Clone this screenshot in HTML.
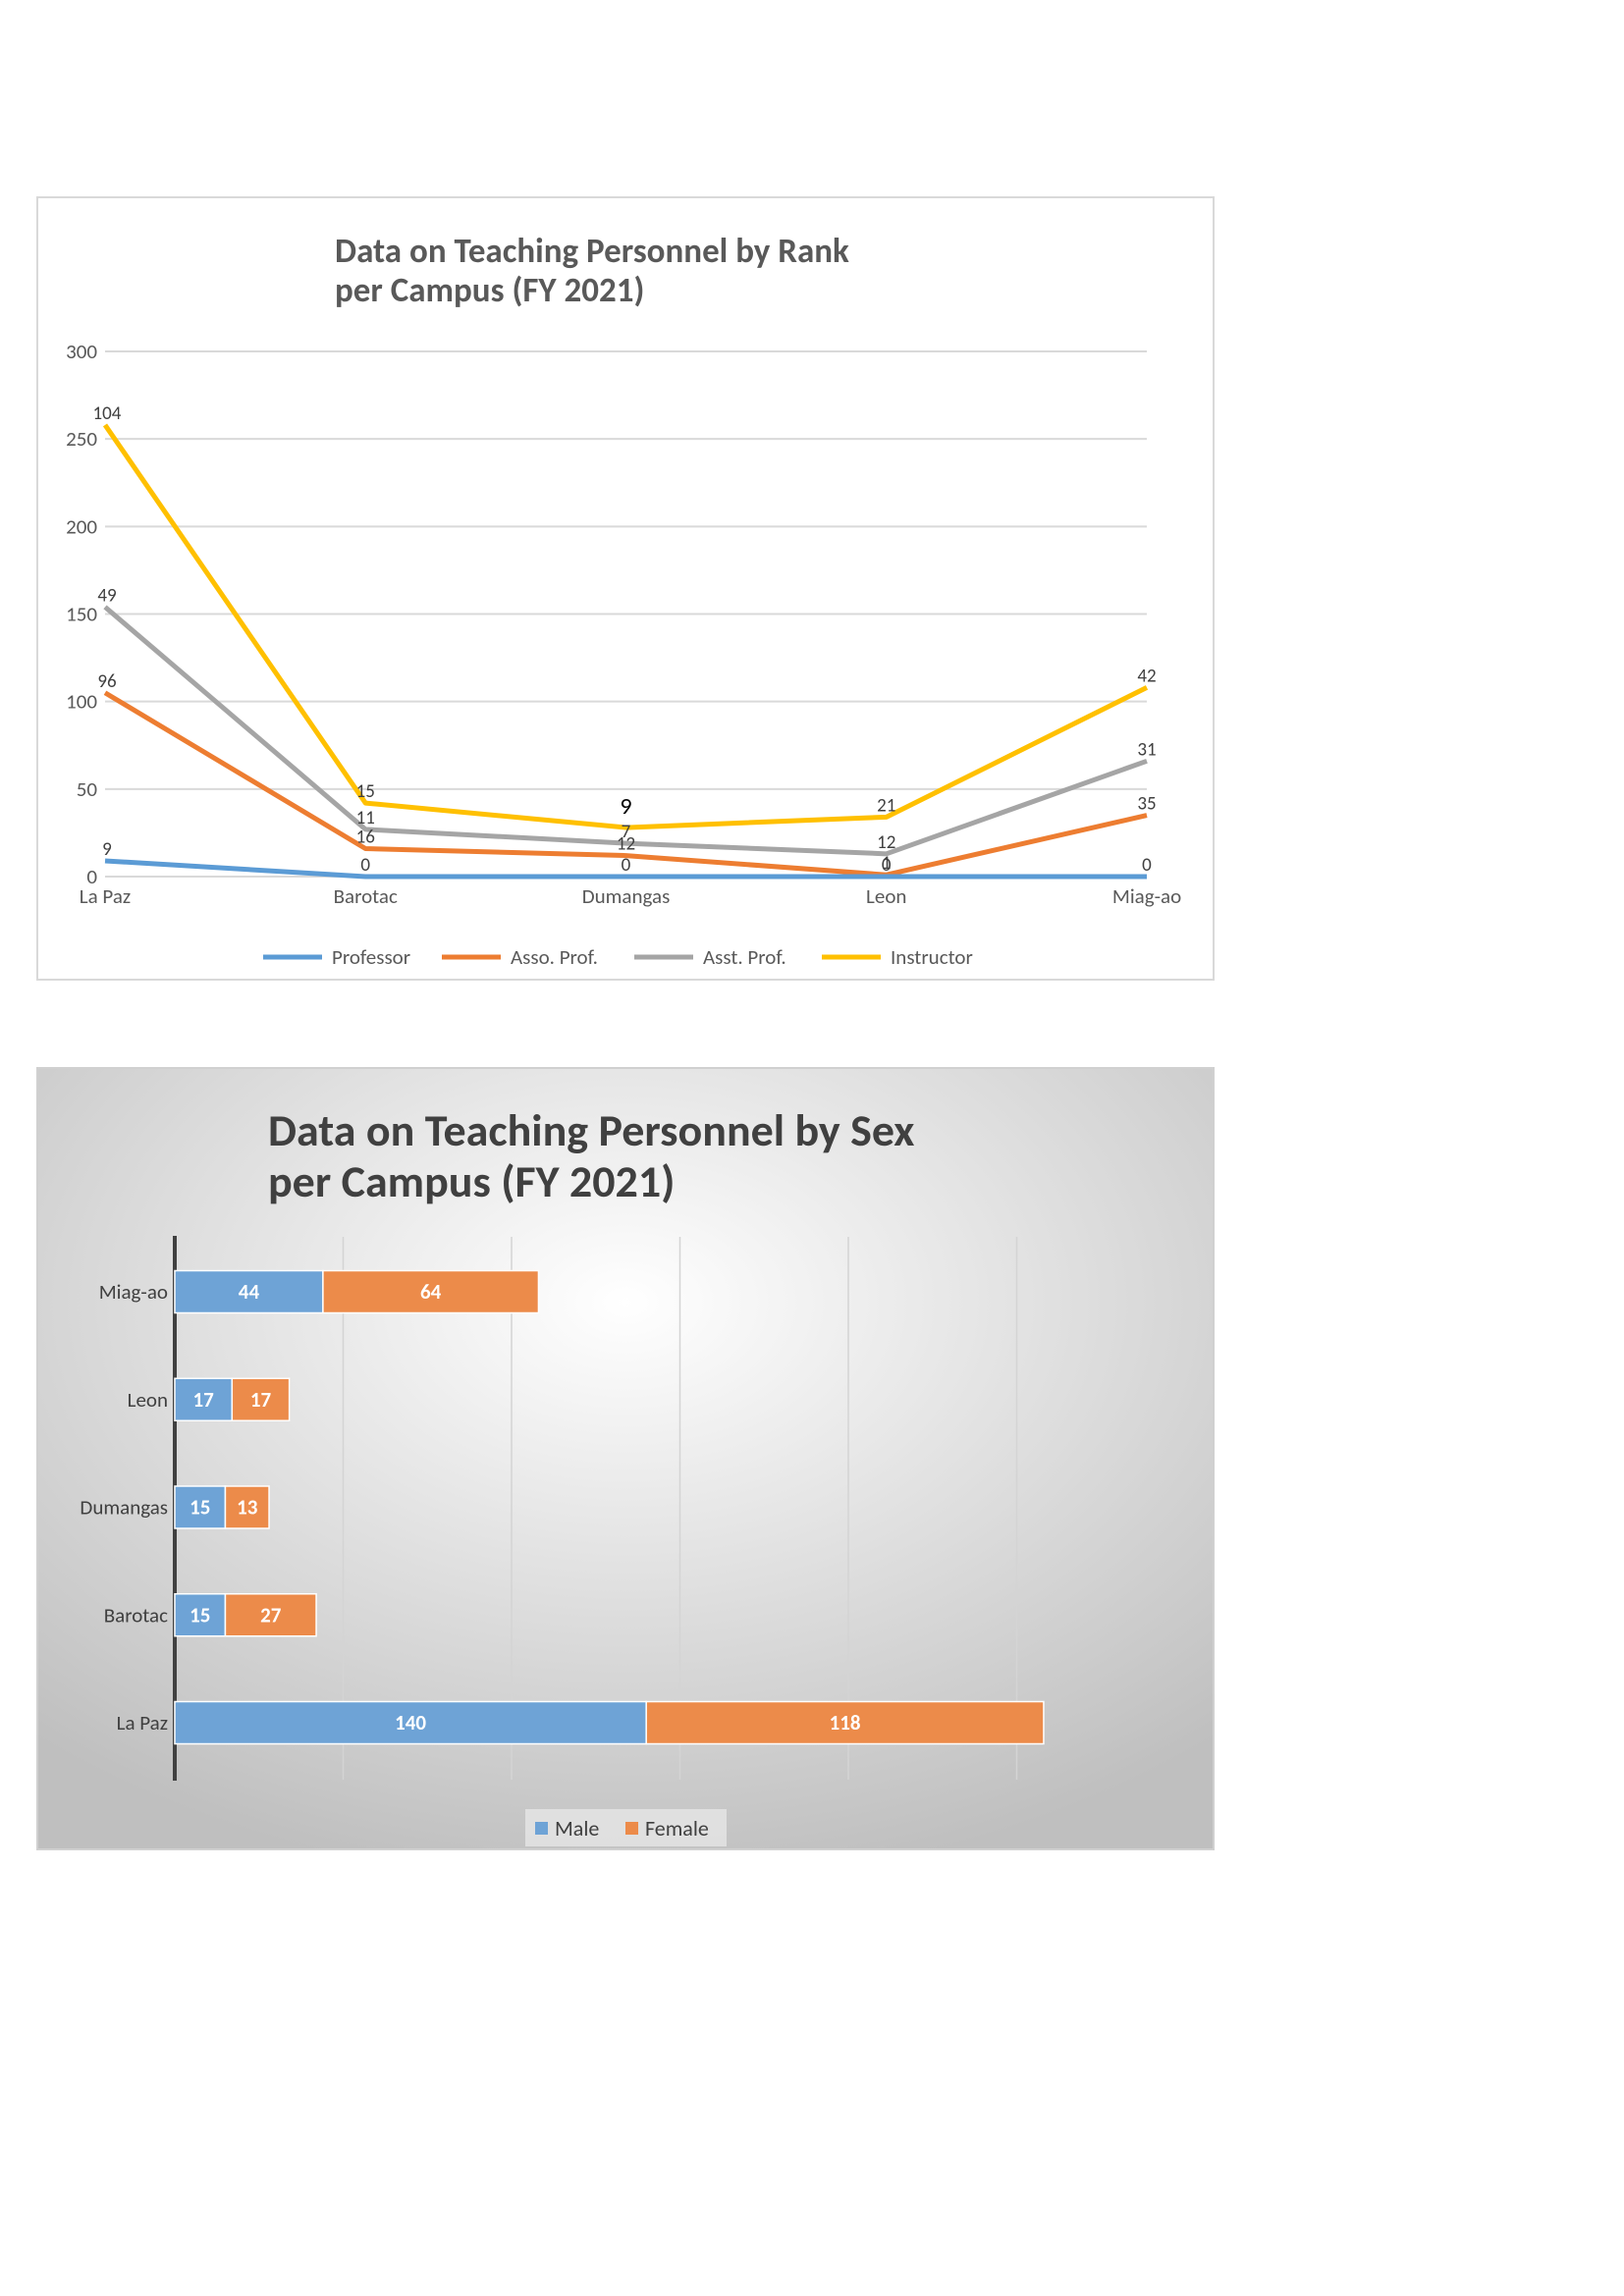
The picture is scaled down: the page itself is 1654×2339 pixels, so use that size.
<!DOCTYPE html>
<html><head><meta charset="utf-8">
<style>
html,body{margin:0;padding:0;background:#fff;}
body{width:1654px;height:2339px;position:relative;overflow:hidden;font-family:"Carlito","Liberation Sans",sans-serif;}
svg text{font-family:"Carlito","Liberation Sans",sans-serif;}
</style></head>
<body>
<svg id="rank" width="1654" height="1050" style="position:absolute;left:0;top:0">
  <rect x="38" y="201" width="1198" height="797" fill="#fff" stroke="#d9d9d9" stroke-width="2"/>
  <text x="341" y="267" font-size="35" font-weight="bold" fill="#595959">Data on Teaching Personnel by Rank</text>
  <text x="341" y="307" font-size="35" font-weight="bold" fill="#595959">per Campus (FY 2021)</text>
  <g id="rankGrid"></g>
  <g id="rankLines"></g>
  <g id="rankLabels"></g>
  <g id="rankLegend"></g>
</svg>

<svg id="sex" width="1654" height="1000" style="position:absolute;left:0;top:1050px">
  <defs>
    <radialGradient id="bg" cx="0.5" cy="0.3" r="0.75">
      <stop offset="0" stop-color="#ffffff"/>
      <stop offset="1" stop-color="#bfbfbf"/>
    </radialGradient>
  </defs>
  <rect x="38" y="38" width="1198" height="796" fill="url(#bg)" stroke="#d0d0d0" stroke-width="2"/>
  <text x="273" y="117" font-size="46" font-weight="bold" fill="#404040">Data on Teaching Personnel by Sex</text>
  <text x="273" y="169" font-size="46" font-weight="bold" fill="#404040">per Campus (FY 2021)</text>
  <g id="sexGrid"></g>
  <g id="sexBars"></g>
  <g id="sexLegend"></g>
</svg>

<script>
// ---- Rank chart data ----
const rankCategories = ["La Paz","Barotac","Dumangas","Leon","Miag-ao"];
const rankSeriesNames = ["Professor","Asso. Prof.","Asst. Prof.","Instructor"];
const professor = [9,0,0,0,0];
const assoProf = [96,16,12,1,35];
const asstProf = [49,11,7,12,31];
const instructor = [104,15,9,21,42];
const rankTicks = [0,50,100,150,200,250,300];

// ---- Sex chart data ----
const sexCategories = ["La Paz","Barotac","Dumangas","Leon","Miag-ao"];
const male = [140,15,15,17,44];
const female = [118,27,13,17,64];
const sexGridTicks = [50,100,150,200,250];

const NS = "http://www.w3.org/2000/svg";
function mk(tag, attrs, parent, text){
  const e = document.createElementNS(NS, tag);
  for (const k in attrs) e.setAttribute(k, attrs[k]);
  if (text !== undefined) e.textContent = text;
  parent.appendChild(e);
  return e;
}

// Rank axes
const rX0 = 107, rX1 = 1168, rY0 = 893, rY1 = 358, rMax = 300;
function rx(i){ return rX0 + i*(rX1-rX0)/(rankCategories.length-1); }
function ry(v){ return rY0 - v*(rY0-rY1)/rMax; }

const rg = document.getElementById('rankGrid');
rankTicks.forEach(t=>{
  const l = mk('line',{x1:rX0,x2:rX1,y1:ry(t),y2:ry(t),stroke:'#d9d9d9','stroke-width':2},rg);
  
  
  const tx = mk('text',{x:rX0-8,y:ry(t)+7,'text-anchor':'end','font-size':21,fill:'#595959'},rg,String(t));
  
  
});
rankCategories.forEach((c,i)=>{
  const tx = mk('text',{x:rx(i),y:ry(0)+27,'text-anchor':'middle','font-size':21,fill:'#595959'},rg,c);
  
  
});

const series = [professor, assoProf, asstProf, instructor];
const colors = ['#5b9bd5','#ed7d31','#a5a5a5','#ffc000'];
const rl = document.getElementById('rankLines');
const rlab = document.getElementById('rankLabels');
const cum = rankCategories.map(()=>0);
const stacks = series.map(s=>s.map((v,i)=>{cum[i]+=v; return cum[i];}));
for (let s = series.length-1; s>=0; s--){
  const pts = stacks[s].map((v,i)=>rx(i)+','+ry(v)).join(' ');
  const pl = mk('polyline',{points:pts,fill:'none',stroke:colors[s],'stroke-width':5,'stroke-linejoin':'round'},rl);
  
  
}
series.forEach((s,si)=>{
  s.forEach((v,i)=>{
    const big = (si===3 && i===2);
    const t = mk('text',{x:rx(i)+(i===0?2:0),y:ry(stacks[si][i])-(big?14:6),'text-anchor':'middle','font-size':big?24:19,fill:big?'#000':'#404040'},rlab,String(v));
    
    
  });
});
const rleg = document.getElementById('rankLegend');
const legX = [268,450,646,837];
rankSeriesNames.forEach((n,i)=>{
  const l = mk('line',{x1:legX[i],x2:legX[i]+60,y1:975,y2:975,stroke:colors[i],'stroke-width':5},rleg);
  
  
  const t = mk('text',{x:legX[i]+70,y:982,'font-size':21,fill:'#595959'},rleg,n);
  
  
});

// Sex chart (offset by 1050)
const sX0 = 178, sPx = 3.43;
const sRowY = [705,595,485,373,266]; // centers relative to svg for La Paz..Miag-ao
function sx(v){ return sX0 + v*sPx; }
function sy(i){ return 705 - i*(705-266)/(sexCategories.length-1); }
const sg = document.getElementById('sexGrid');
sexGridTicks.forEach(t=>{
  const l = mk('line',{x1:sx(t),x2:sx(t),y1:210,y2:763,stroke:'#d4d4d4','stroke-width':1.5},sg);
  
  
});
const ax = mk('line',{x1:sX0,x2:sX0,y1:209,y2:764,stroke:'#404040','stroke-width':4},sg);


const sb = document.getElementById('sexBars');
const bh = 43;
sexCategories.forEach((c,i)=>{
  const cy = sy(i);
  const lab = mk('text',{x:sX0-7,y:cy+7,'text-anchor':'end','font-size':21,fill:'#404040'},sb,c);
  
  
  const m = mk('rect',{x:sX0,y:cy-bh/2,width:sx(male[i])-sX0,height:bh,fill:'#6ea3d6',stroke:'#fff','stroke-width':1.5},sb);
  
  
  const f = mk('rect',{x:sx(male[i]),y:cy-bh/2,width:sx(male[i]+female[i])-sx(male[i]),height:bh,fill:'#ec8b4a',stroke:'#fff','stroke-width':1.5},sb);
  
  
  const mt = mk('text',{x:(sX0+sx(male[i]))/2,y:cy+7,'text-anchor':'middle','font-size':21,'font-weight':'bold',fill:'#fff'},sb,String(male[i]));
  
  
  const ft = mk('text',{x:(sx(male[i])+sx(male[i]+female[i]))/2,y:cy+7,'text-anchor':'middle','font-size':21,'font-weight':'bold',fill:'#fff'},sb,String(female[i]));
  
  
});
const sl = document.getElementById('sexLegend');
const lb = mk('rect',{x:535,y:793,width:205,height:38,fill:'#e6e6e6',opacity:0.8},sl);


[['Male','#6ea3d6',545],['Female','#ec8b4a',637]].forEach(d=>{
  const r = mk('rect',{x:d[2],y:806,width:13,height:13,fill:d[1]},sl);
  
  
  const t = mk('text',{x:d[2]+20,y:820,'font-size':22,fill:'#404040'},sl,d[0]);
  
  
});
</script>
</body></html>
